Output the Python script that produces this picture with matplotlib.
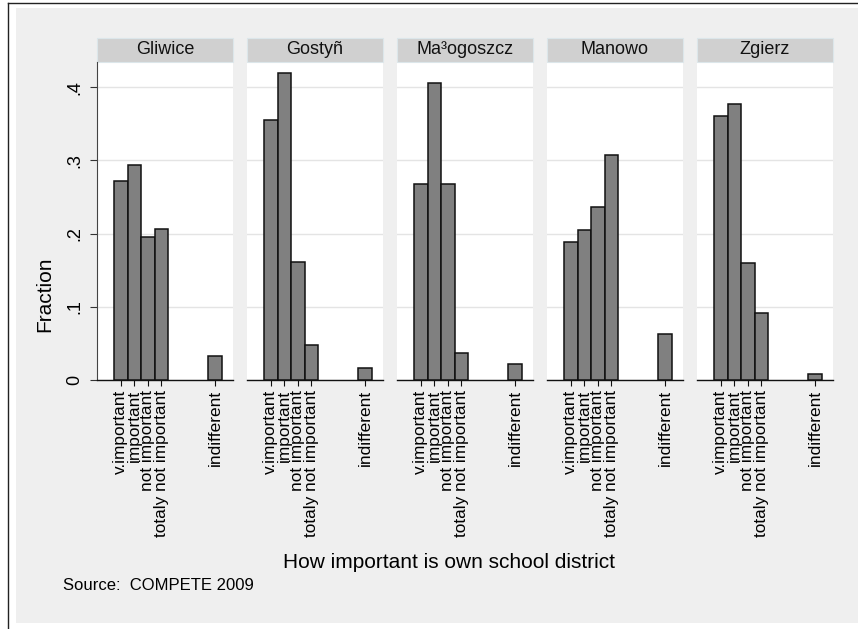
import matplotlib
matplotlib.use('Agg')
import matplotlib.pyplot as plt
from matplotlib.patches import Rectangle
from matplotlib.lines import Line2D

plt.rcParams['font.family'] = ['Liberation Sans', 'DejaVu Sans']

districts = ['Gliwice', 'Gostyñ', 'Ma³ogoszcz', 'Manowo', 'Zgierz']
categories = ['v.important', 'important', 'not important', 'totaly not important', 'indifferent']
codes = [1, 2, 3, 4, 8]

gliwice = [0.2714, 0.2937, 0.1953, 0.2063, 0.0323]
gostyn = [0.3548, 0.4194, 0.1613, 0.0484, 0.0161]
malogoszcz = [0.2680, 0.4057, 0.2680, 0.0364, 0.0219]
manowo = [0.1890, 0.2049, 0.2363, 0.3069, 0.0633]
zgierz = [0.3611, 0.3775, 0.1594, 0.0920, 0.0082]
fractions = [gliwice, gostyn, malogoszcz, manowo, zgierz]

yticks = [0, 0.1, 0.2, 0.3, 0.4]
ytick_labels = ['0', '.1', '.2', '.3', '.4']

W, H = 858, 629
fig = plt.figure(figsize=(W / 100, H / 100), dpi=100)
fig.patch.set_facecolor('white')

# outer gray region and frame lines
fig.patches.append(Rectangle((16 / W, (H - 623) / H), (W - 16) / W, (623 - 8) / H,
                             transform=fig.transFigure, facecolor='#efefef',
                             edgecolor='none', zorder=-5))
fig.lines.append(Line2D([7.5 / W, 7.5 / W], [0, 1 - 3 / H], transform=fig.transFigure,
                        color='#222222', lw=1.0, zorder=-4))
fig.lines.append(Line2D([7.5 / W, 1], [1 - 3 / H, 1 - 3 / H], transform=fig.transFigure,
                        color='#222222', lw=1.0, zorder=-4))

top, bottom = 62, 380
pw = 136
ph = bottom - top
for i, (name, vals) in enumerate(zip(districts, fractions)):
    left = 97 + 150 * i
    ax = fig.add_axes([left / W, (H - bottom) / H, pw / W, ph / H])
    ax.set_zorder(1)
    ax.set_facecolor('white')
    ax.bar(codes, vals, width=1.0, color='#808080', edgecolor='#111111', linewidth=1.1, zorder=3)
    ax.set_xlim(-0.78, 9.34)
    ax.set_ylim(0, 0.4344)
    ax.set_yticks(yticks)
    ax.yaxis.grid(True, color='#e4e4e4', linewidth=1.0, zorder=0)
    ax.set_axisbelow(True)
    ax.set_xticks(codes)
    ax.set_xticklabels(categories, rotation=90, fontsize=12.4, va='top')
    ax.tick_params(axis='x', length=4.5, width=0.8, pad=2.5, color='#111111')
    for s in ['top', 'right']:
        ax.spines[s].set_visible(False)
    ax.spines['bottom'].set_color('#111111')
    ax.spines['bottom'].set_linewidth(1.0)
    if i == 0:
        ax.set_yticklabels(ytick_labels, rotation=90, fontsize=13, va='center')
        ax.tick_params(axis='y', length=5, width=0.8, pad=5, color='#333333')
        ax.spines['left'].set_color('#444444')
        ax.spines['left'].set_linewidth(0.8)
    else:
        ax.spines['left'].set_visible(False)
        ax.tick_params(axis='y', length=0, labelleft=False)
    # facet strip
    sh = 24 / ph
    ax.add_patch(Rectangle((0, 1), 1, sh, transform=ax.transAxes, facecolor='#d0d0d0',
                           edgecolor='#dce6ea', linewidth=0.8, clip_on=False))
    ax.text(0.5, 1 + sh / 2, name, transform=ax.transAxes, ha='center', va='center',
            fontsize=13, color='#111111')

fig.text(45 / W, 1 - 294 / H, 'Fraction', rotation=90, ha='center', va='center', fontsize=15)
fig.text(449 / W, 1 - 563 / H, 'How important is own school district', ha='center',
         va='center', fontsize=15)
fig.text(63 / W, 1 - 586 / H, 'Source:  COMPETE 2009', ha='left', va='center', fontsize=12)

fig.savefig('out.png', dpi=100)
